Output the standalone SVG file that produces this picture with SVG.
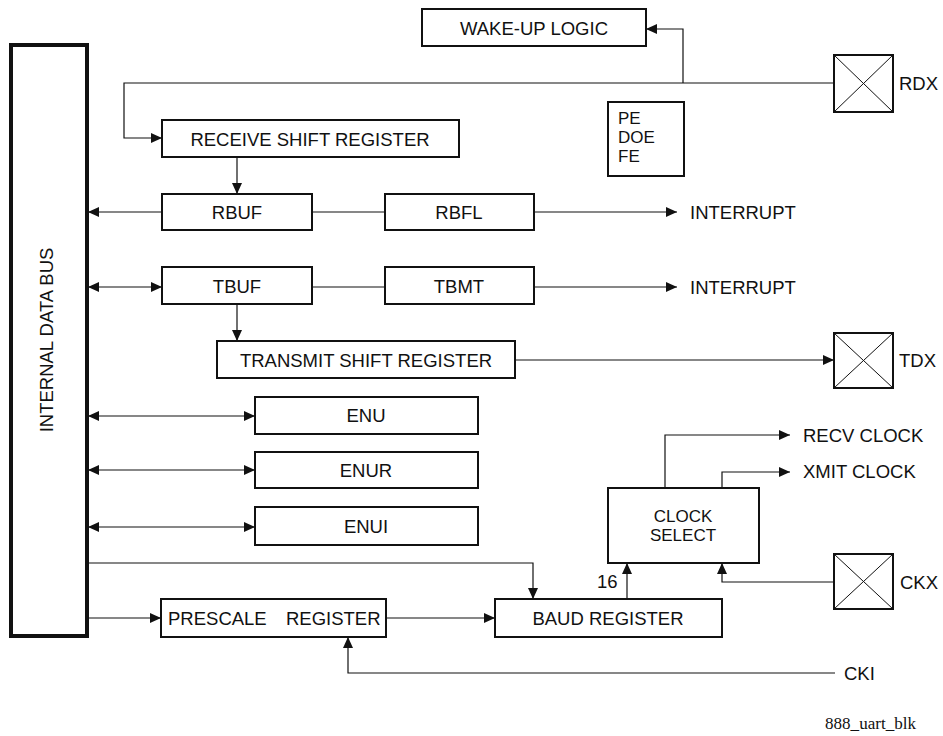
<svg xmlns="http://www.w3.org/2000/svg" width="943" height="736" viewBox="0 0 943 736">
  <style>
    .box { fill: #fff; stroke: #111; stroke-width: 2; }
    .bus { fill: #fff; stroke: #111; stroke-width: 4; }
    .wire { fill: none; stroke: #111; stroke-width: 1.2; }
    .diag { stroke: #111; stroke-width: 1; }
    .t { font-family: "Liberation Sans", Arial, sans-serif; font-size: 18.5px; fill: #111; }
    .s { font-size: 17px; }
    .c { text-anchor: middle; }
    .note { font-family: "Liberation Serif", "Times New Roman", serif; font-size: 16px; fill: #111; }
  </style>
  <defs>
    <marker id="arrow" viewBox="0 0 11 10" refX="11" refY="5" markerWidth="11" markerHeight="10" markerUnits="userSpaceOnUse" orient="auto-start-reverse">
      <path d="M0,0 L11,5 L0,10 z" fill="#111"/>
    </marker>
  </defs>
  <rect width="943" height="736" fill="#fff"/>

  <!-- connectors -->
  <g id="connectors">
    <path class="wire" d="M834,83 H124 V138 H162" marker-end="url(#arrow)"/>
    <path class="wire" d="M683,83 V29 H646" marker-end="url(#arrow)"/>
    <path class="wire" d="M237,157 V194" marker-end="url(#arrow)"/>
    <path class="wire" d="M162,212 H88" marker-end="url(#arrow)"/>
    <path class="wire" d="M312,212 H385"/>
    <path class="wire" d="M534,212 H677" marker-end="url(#arrow)"/>
    <path class="wire" d="M88,287 H162" marker-start="url(#arrow)" marker-end="url(#arrow)"/>
    <path class="wire" d="M312,287 H385"/>
    <path class="wire" d="M534,287 H677" marker-end="url(#arrow)"/>
    <path class="wire" d="M237,304 V341" marker-end="url(#arrow)"/>
    <path class="wire" d="M515,360 H834" marker-end="url(#arrow)"/>
    <path class="wire" d="M88,416 H255" marker-start="url(#arrow)" marker-end="url(#arrow)"/>
    <path class="wire" d="M88,470 H255" marker-start="url(#arrow)" marker-end="url(#arrow)"/>
    <path class="wire" d="M88,527 H255" marker-start="url(#arrow)" marker-end="url(#arrow)"/>
    <path class="wire" d="M88,563 H533 V599" marker-end="url(#arrow)"/>
    <path class="wire" d="M88,618 H161" marker-end="url(#arrow)"/>
    <path class="wire" d="M386,618 H495" marker-end="url(#arrow)"/>
    <path class="wire" d="M835,673 H348 V637" marker-end="url(#arrow)"/>
    <path class="wire" d="M627,599 V563" marker-end="url(#arrow)"/>
    <path class="wire" d="M834,582 H722 V563" marker-end="url(#arrow)"/>
    <path class="wire" d="M665,488 V435 H790" marker-end="url(#arrow)"/>
    <path class="wire" d="M722,488 V472 H790" marker-end="url(#arrow)"/>
  </g>

  <!-- internal data bus -->
  <g id="bus">
    <rect class="bus" x="11" y="45" width="76" height="591"/>
    <text class="t c" transform="translate(53,340) rotate(-90)">INTERNAL DATA BUS</text>
  </g>

  <g id="wakeup">
    <rect class="box" x="422" y="9" width="224" height="37"/>
    <text class="t c" x="534" y="35">WAKE-UP LOGIC</text>
  </g>

  <g id="rdx">
    <rect class="box" x="834" y="55" width="59" height="57"/>
    <line class="diag" x1="834" y1="55" x2="893" y2="112"/>
    <line class="diag" x1="893" y1="55" x2="834" y2="112"/>
    <text class="t" x="899" y="90">RDX</text>
  </g>

  <g id="rsr">
    <rect class="box" x="162" y="120" width="297" height="37"/>
    <text class="t c" x="310" y="146">RECEIVE SHIFT REGISTER</text>
  </g>

  <g id="flags">
    <rect class="box" x="608" y="102" width="76" height="74"/>
    <text class="t s" x="618" y="124">PE</text>
    <text class="t s" x="618" y="143">DOE</text>
    <text class="t s" x="618" y="162">FE</text>
  </g>

  <g id="rbuf">
    <rect class="box" x="162" y="194" width="150" height="36"/>
    <text class="t c" x="237" y="219">RBUF</text>
  </g>
  <g id="rbfl">
    <rect class="box" x="385" y="194" width="149" height="36"/>
    <text class="t c" x="459" y="219">RBFL</text>
  </g>
  <g id="int-rx">
    <text class="t" x="690" y="219">INTERRUPT</text>
  </g>

  <g id="tbuf">
    <rect class="box" x="162" y="267" width="150" height="37"/>
    <text class="t c" x="237" y="293">TBUF</text>
  </g>
  <g id="tbmt">
    <rect class="box" x="385" y="267" width="149" height="37"/>
    <text class="t c" x="459" y="293">TBMT</text>
  </g>
  <g id="int-tx">
    <text class="t" x="690" y="294">INTERRUPT</text>
  </g>

  <g id="tsr">
    <rect class="box" x="217" y="341" width="298" height="37"/>
    <text class="t c" x="366" y="367">TRANSMIT SHIFT REGISTER</text>
  </g>

  <g id="tdx">
    <rect class="box" x="834" y="333" width="59" height="55"/>
    <line class="diag" x1="834" y1="333" x2="893" y2="388"/>
    <line class="diag" x1="893" y1="333" x2="834" y2="388"/>
    <text class="t" x="899" y="367">TDX</text>
  </g>

  <g id="enu">
    <rect class="box" x="255" y="397" width="223" height="37"/>
    <text class="t c" x="366" y="422">ENU</text>
  </g>
  <g id="enur">
    <rect class="box" x="255" y="452" width="223" height="36"/>
    <text class="t c" x="366" y="477">ENUR</text>
  </g>
  <g id="enui">
    <rect class="box" x="255" y="507" width="223" height="38"/>
    <text class="t c" x="366" y="533">ENUI</text>
  </g>

  <g id="clock-select">
    <rect class="box" x="608" y="488" width="151" height="75"/>
    <text class="t s c" x="683" y="522">CLOCK</text>
    <text class="t s c" x="683" y="541">SELECT</text>
  </g>
  <g id="recv-clock">
    <text class="t" x="803" y="442">RECV CLOCK</text>
  </g>
  <g id="xmit-clock">
    <text class="t" x="803" y="478">XMIT CLOCK</text>
  </g>

  <g id="ckx">
    <rect class="box" x="834" y="554" width="59" height="55"/>
    <line class="diag" x1="834" y1="554" x2="893" y2="609"/>
    <line class="diag" x1="893" y1="554" x2="834" y2="609"/>
    <text class="t" x="900" y="589">CKX</text>
  </g>

  <g id="prescale">
    <rect class="box" x="161" y="599" width="225" height="38"/>
    <text class="t" x="168" y="625">PRESCALE</text>
    <text class="t" x="286" y="625">REGISTER</text>
  </g>

  <g id="baud">
    <rect class="box" x="495" y="599" width="227" height="38"/>
    <text class="t c" x="608" y="625">BAUD REGISTER</text>
    <text class="t" x="597" y="588">16</text>
  </g>

  <g id="cki">
    <text class="t" x="844" y="680">CKI</text>
  </g>

  <text class="note" x="825" y="729" textLength="91" lengthAdjust="spacingAndGlyphs">888_uart_blk</text>
</svg>
